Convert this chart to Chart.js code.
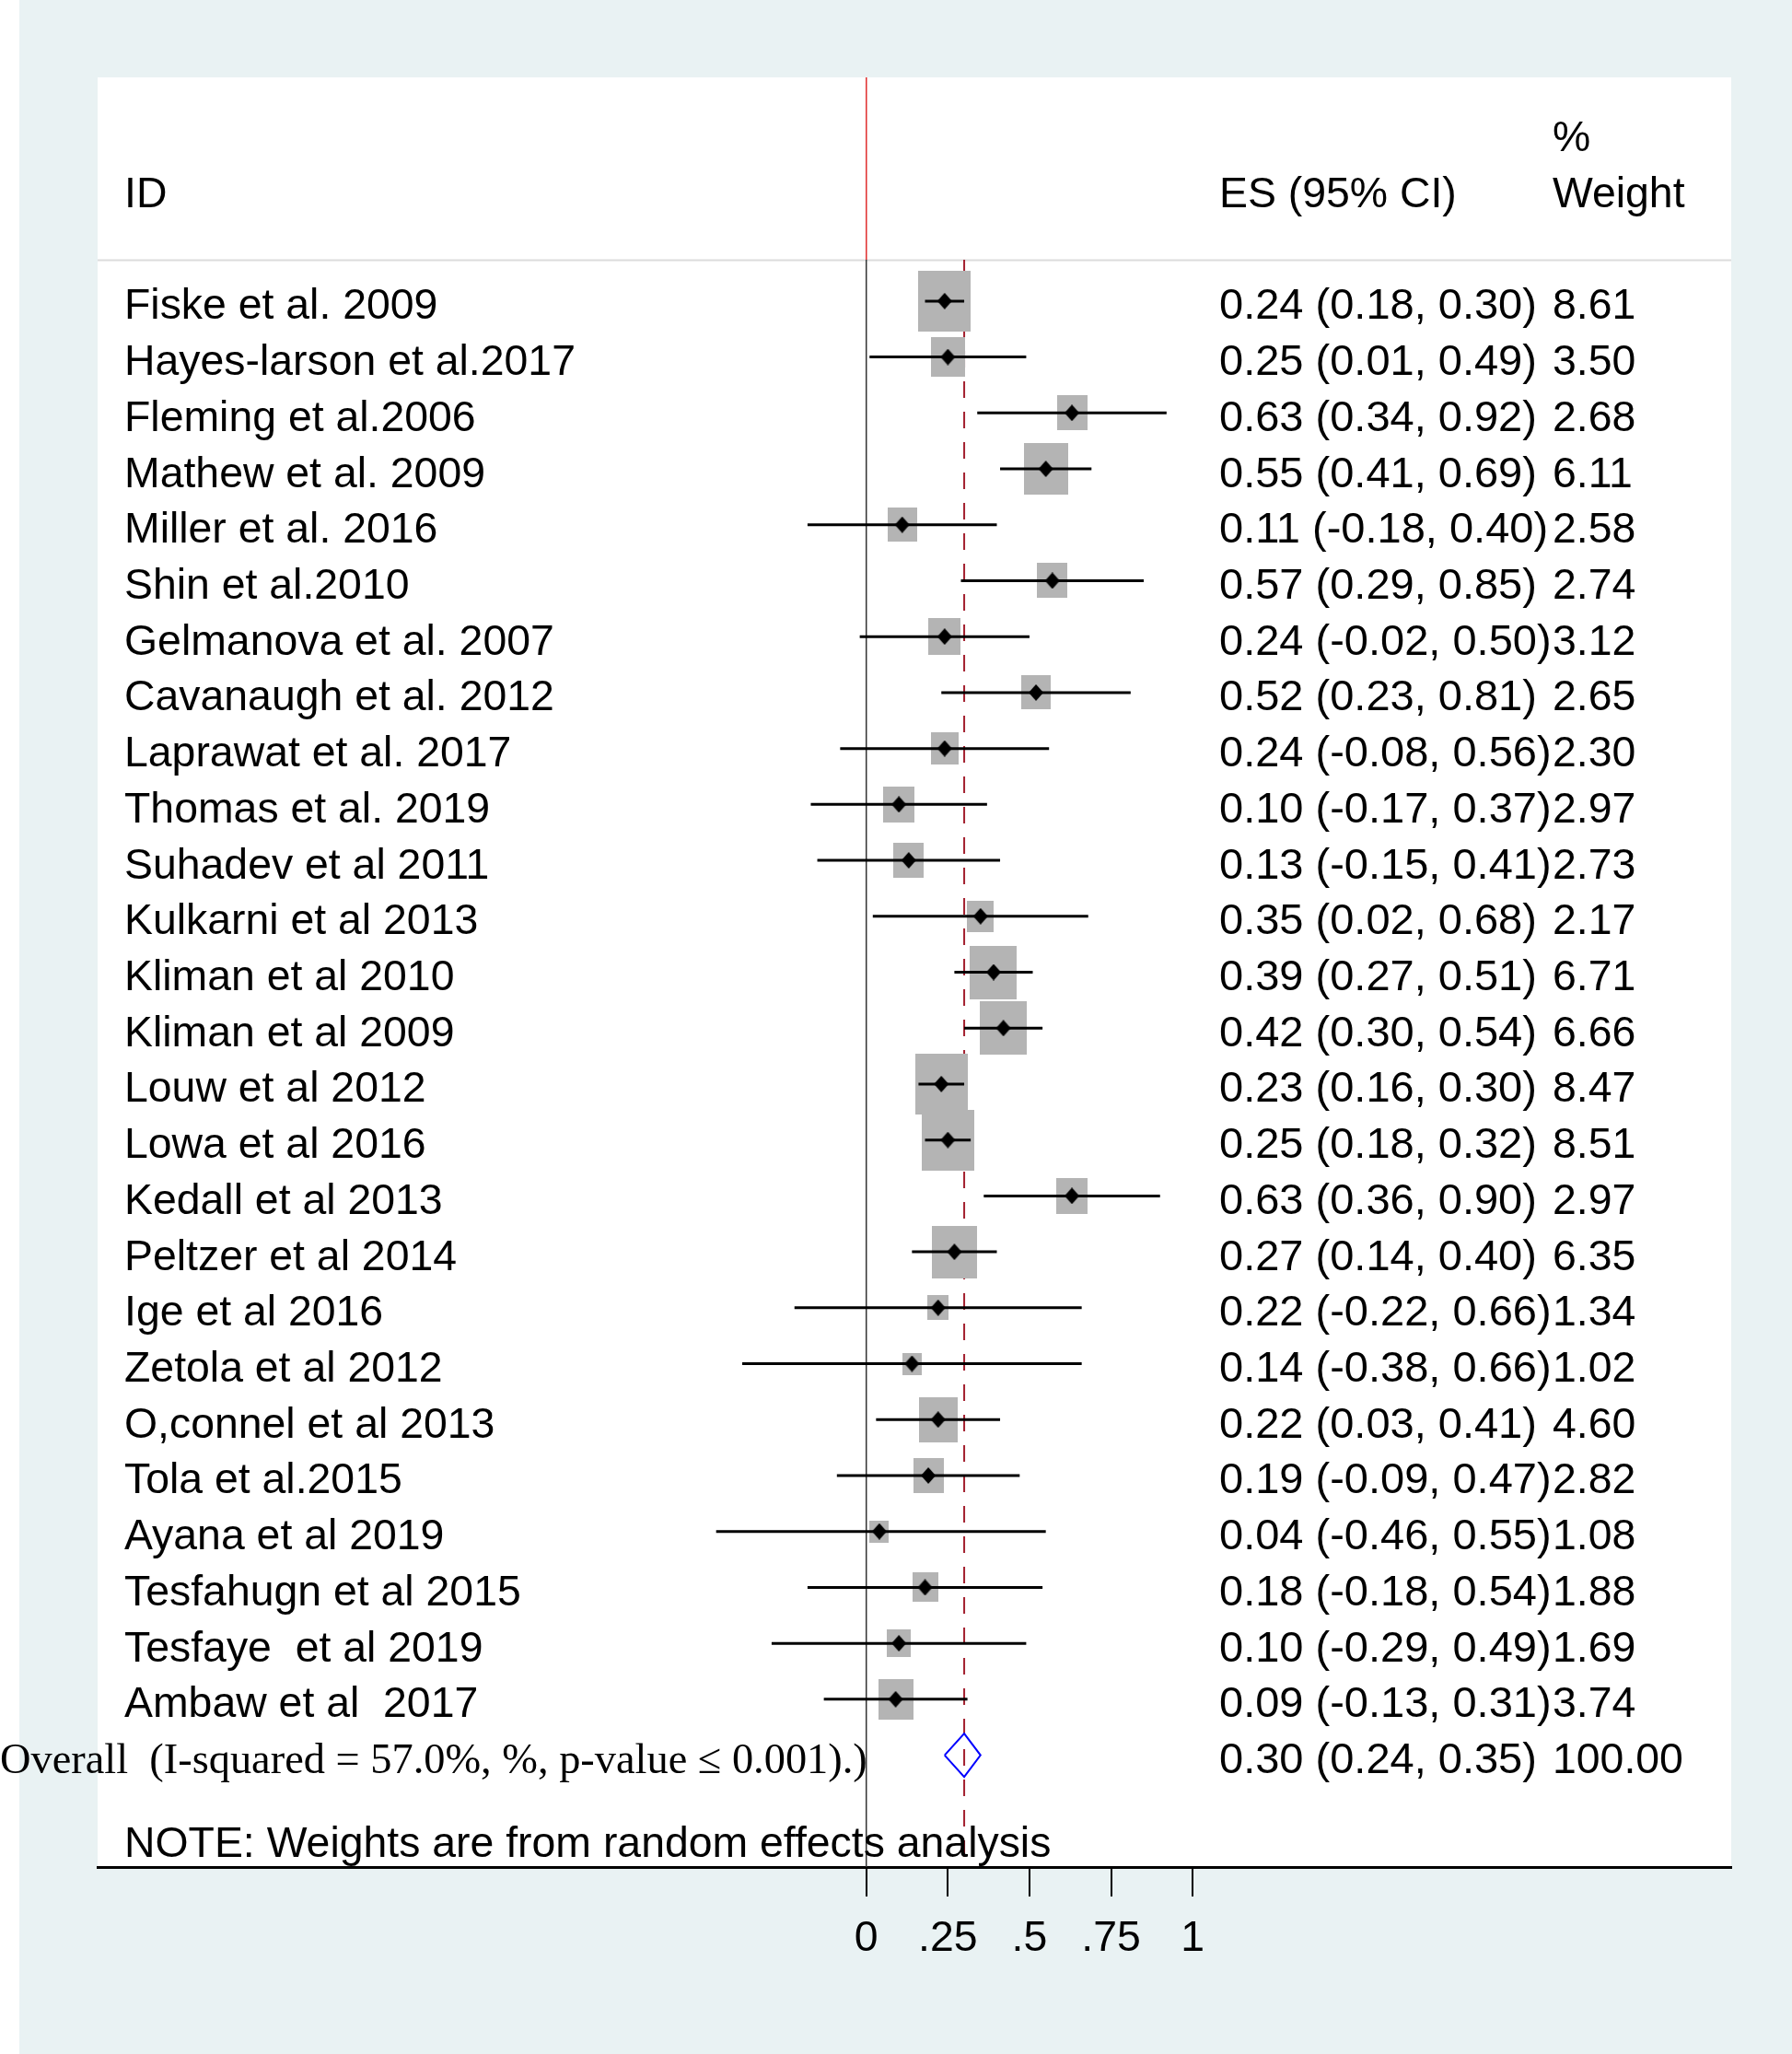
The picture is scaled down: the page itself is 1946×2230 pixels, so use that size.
<!DOCTYPE html>
<html>
<head>
<meta charset="utf-8">
<title>Forest plot</title>
<script src="https://cdn.jsdelivr.net/npm/chart.js@4.4.1/dist/chart.umd.min.js"></script>
<style>
  html, body { margin: 0; padding: 0; background: #ffffff; }
  #wrap { width: 1946px; height: 2230px; }
</style>
</head>
<body>
<div id="wrap"><canvas id="forest" width="1946" height="2230"></canvas></div>
<script>
  // ---- data ----
  const studies = [
    'Fiske et al. 2009', 'Hayes-larson et al.2017', 'Fleming et al.2006', 'Mathew et al. 2009',
    'Miller et al. 2016', 'Shin et al.2010', 'Gelmanova et al. 2007', 'Cavanaugh et al. 2012',
    'Laprawat et al. 2017', 'Thomas et al. 2019', 'Suhadev et al 2011', 'Kulkarni et al 2013',
    'Kliman et al 2010', 'Kliman et al 2009', 'Louw et al 2012', 'Lowa et al 2016',
    'Kedall et al 2013', 'Peltzer et al 2014', 'Ige et al 2016', 'Zetola et al 2012',
    'O,connel et al 2013', 'Tola et al.2015', 'Ayana et al 2019', 'Tesfahugn et al 2015',
    'Tesfaye  et al 2019', 'Ambaw et al  2017'
  ];
  const es = [0.24, 0.25, 0.63, 0.55, 0.11, 0.57, 0.24, 0.52, 0.24, 0.10, 0.13, 0.35, 0.39,
    0.42, 0.23, 0.25, 0.63, 0.27, 0.22, 0.14, 0.22, 0.19, 0.04, 0.18, 0.10, 0.09];
  const ciLow = [0.18, 0.01, 0.34, 0.41, -0.18, 0.29, -0.02, 0.23, -0.08, -0.17, -0.15, 0.02, 0.27,
    0.30, 0.16, 0.18, 0.36, 0.14, -0.22, -0.38, 0.03, -0.09, -0.46, -0.18, -0.29, -0.13];
  const ciHigh = [0.30, 0.49, 0.92, 0.69, 0.40, 0.85, 0.50, 0.81, 0.56, 0.37, 0.41, 0.68, 0.51,
    0.54, 0.30, 0.32, 0.90, 0.40, 0.66, 0.66, 0.41, 0.47, 0.55, 0.54, 0.49, 0.31];
  const weights = [8.61, 3.50, 2.68, 6.11, 2.58, 2.74, 3.12, 2.65, 2.30, 2.97, 2.73, 2.17, 6.71,
    6.66, 8.47, 8.51, 2.97, 6.35, 1.34, 1.02, 4.60, 2.82, 1.08, 1.88, 1.69, 3.74];
  const overall = [0.30, 0.24, 0.35];   // ES, lower, upper
  const overallWeight = 100.00;
  const overallLabel = 'Overall  (I-squared = 57.0%, %, p-value \u2264 0.001).)';
  const tickValues = [0, 0.25, 0.5, 0.75, 1];
  const tickLabels = ['0', '.25', '.5', '.75', '1'];

  const overallRow = studies.length;   // row index for the pooled estimate
  const headRule = -0.74;              // y of the header separator, in rows
  const SANS = '"Liberation Sans", Arial, Helvetica, sans-serif';
  const SERIF = '"Liberation Serif", "Times New Roman", serif';

  // grey weight boxes, area proportional to weight
  const boxCache = {};
  function boxImage(w) {
    if (boxCache[w]) return boxCache[w];
    const c = document.createElement('canvas');
    c.width = Math.round(19 * Math.sqrt(w) + 1.5);
    c.height = Math.round(22 * Math.sqrt(w) + 1.5);
    const g = c.getContext('2d');
    g.fillStyle = '#b4b4b4';
    g.fillRect(0, 0, c.width, c.height);
    boxCache[w] = c;
    return c;
  }

  // small black diamond, a bit taller than wide like the original
  const marker = (function () {
    const c = document.createElement('canvas');
    c.width = 16;
    c.height = 18;
    const g = c.getContext('2d');
    g.fillStyle = '#000000';
    g.beginPath();
    g.moveTo(8, 0);
    g.lineTo(16, 9);
    g.lineTo(8, 18);
    g.lineTo(0, 9);
    g.closePath();
    g.fill();
    return c;
  })();

  // CI segments, separated by gaps
  const ciPoints = [];
  studies.forEach((s, i) => {
    ciPoints.push({ x: ciLow[i], y: i }, { x: ciHigh[i], y: i }, { x: ciHigh[i], y: NaN });
  });
  const points = es.map((v, i) => ({ x: v, y: i }));

  const dHalf = 0.387;
  const diamond = [
    { x: overall[1], y: overallRow },
    { x: overall[0], y: overallRow - dHalf },
    { x: overall[2], y: overallRow },
    { x: overall[0], y: overallRow + dHalf },
    { x: overall[1], y: overallRow }
  ];

  /* =============================================
   * BACKGROUND + TEXT PLUGINS
   * ============================================= */
  const panelPlugin = {
    id: 'panel',
    beforeDraw(chart) {
      const { ctx, chartArea: a, width, height } = chart;
      ctx.save();
      ctx.fillStyle = '#ffffff';
      ctx.fillRect(0, 0, width, height);
      ctx.fillStyle = '#e9f2f3';
      ctx.fillRect(21, 0, width - 21, height);
      ctx.fillStyle = '#ffffff';
      ctx.fillRect(a.left, a.top, a.right - a.left, a.bottom - a.top);
      // header rule
      const yr = Math.round(chart.scales.y.getPixelForValue(headRule)) + 0.5;
      ctx.strokeStyle = '#dcdcdc';
      ctx.lineWidth = 2;
      ctx.beginPath();
      ctx.moveTo(a.left, yr);
      ctx.lineTo(a.right, yr);
      ctx.stroke();
      ctx.restore();
    }
  };

  const textPlugin = {
    id: 'forestText',
    afterDatasetsDraw(chart) {
      const { ctx, scales: { y } } = chart;
      const base = r => y.getPixelForValue(r) + 19.5;
      const xLabel = 135, xEs = 1324, xWt = 1686;
      ctx.save();
      ctx.fillStyle = '#000000';
      ctx.textBaseline = 'alphabetic';
      ctx.textAlign = 'left';
      ctx.font = '46.4px ' + SANS;

      ctx.fillText('ID', xLabel, base(-2));
      ctx.fillText('ES (95% CI)', xEs, base(-2));
      ctx.fillText('%', xWt, base(-3));
      ctx.fillText('Weight', xWt, base(-2));

      studies.forEach((s, i) => {
        ctx.font = '46.4px ' + SANS;
        ctx.fillText(s, xLabel, base(i));
        ctx.fillText(weights[i].toFixed(2), xWt, base(i));
        ctx.font = '47px ' + SANS;
        ctx.fillText(es[i].toFixed(2) + ' (' + ciLow[i].toFixed(2) + ', ' + ciHigh[i].toFixed(2) + ')', xEs, base(i));
      });
      ctx.fillText(overall[0].toFixed(2) + ' (' + overall[1].toFixed(2) + ', ' + overall[2].toFixed(2) + ')', xEs, base(overallRow));
      ctx.font = '46.4px ' + SANS;
      ctx.fillText(overallWeight.toFixed(2), xWt, base(overallRow));
      ctx.fillText('NOTE: Weights are from random effects analysis', xLabel, base(overallRow + 1.5));

      ctx.font = '46.4px ' + SERIF;
      ctx.fillText(overallLabel, 0, base(overallRow));
      ctx.restore();
    }
  };

  /* =============================================
   * CHART
   * ============================================= */
  new Chart(document.getElementById('forest'), {
    type: 'scatter',
    data: {
      datasets: [
        { // effect markers
          data: points,
          pointStyle: marker,
          pointRadius: 5
        },
        { // confidence intervals
          type: 'line',
          data: ciPoints,
          borderColor: '#000000',
          borderWidth: 3,
          pointRadius: 0,
          spanGaps: false,
          fill: false
        },
        { // weight boxes
          data: points,
          pointStyle: ctx => boxImage(weights[ctx.dataIndex]),
          pointRadius: 5
        },
        { // pooled estimate diamond
          type: 'line',
          data: diamond,
          borderColor: '#0000ff',
          borderWidth: 2,
          pointRadius: 0,
          fill: false
        },
        { // overall effect reference line
          type: 'line',
          data: [{ x: overall[0], y: headRule }, { x: overall[0], y: 28 }],
          borderColor: '#a3202f',
          borderWidth: 2,
          borderDash: [18, 15],
          pointRadius: 0
        },
        { // null line
          type: 'line',
          data: [{ x: 0, y: headRule }, { x: 0, y: 28 }],
          borderColor: '#333333',
          borderWidth: 1.5,
          pointRadius: 0
        },
        {
          type: 'line',
          data: [{ x: 0, y: -4 }, { x: 0, y: headRule }],
          borderColor: '#e03030',
          borderWidth: 1,
          pointRadius: 0
        }
      ]
    },
    options: {
      responsive: false,
      animation: false,
      events: [],
      layout: { padding: { left: 106, right: 66, top: 84, bottom: 63 } },
      plugins: { legend: { display: false }, tooltip: { enabled: false } },
      scales: {
        x: {
          type: 'linear',
          position: 'bottom',
          min: -2.355,
          max: 2.65,
          afterBuildTicks: scale => { scale.ticks = tickValues.map(v => ({ value: v })); },
          afterFit: scale => { scale.height = 140; },
          ticks: {
            autoSkip: false,
            maxRotation: 0,
            padding: 18,
            color: '#000000',
            font: { family: SANS, size: 46.4 },
            callback: (v) => tickLabels[tickValues.indexOf(v)]
          },
          grid: { display: true, drawOnChartArea: false, drawTicks: true, tickLength: 32, color: '#000000', lineWidth: 2 },
          border: { display: true, color: '#000000', width: 3 }
        },
        y: {
          type: 'linear',
          reverse: true,
          min: -4,
          max: 28,
          display: false
        }
      }
    },
    plugins: [panelPlugin, textPlugin]
  });
</script>
</body>
</html>
